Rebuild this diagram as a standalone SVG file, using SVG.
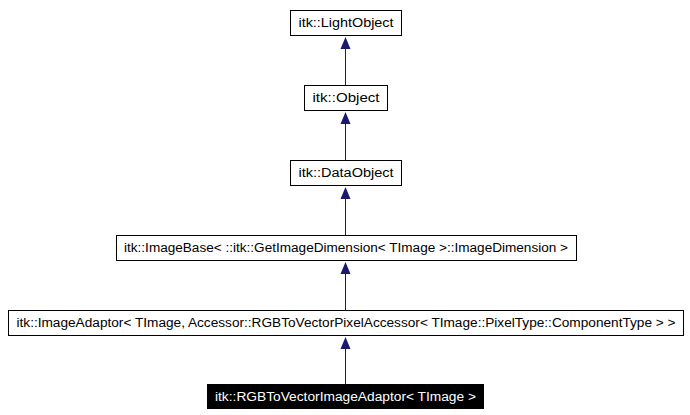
<svg xmlns="http://www.w3.org/2000/svg" width="690" height="415" viewBox="0 0 690 415">
<style>
.b{fill:#fff;stroke:#000;stroke-width:1}
.t{font-family:"Liberation Sans",Arial,sans-serif;font-size:12px;text-anchor:middle;fill:#000}
.e{stroke:#191970;stroke-width:1;fill:none}
</style>
<rect width="690" height="415" fill="#fff"/>
<g id="connectors">
<line class="e" x1="345.5" y1="85" x2="345.5" y2="45"/>
<line class="e" x1="345.5" y1="160" x2="345.5" y2="120"/>
<line class="e" x1="345.5" y1="235" x2="345.5" y2="195"/>
<line class="e" x1="345.5" y1="310" x2="345.5" y2="270"/>
<line class="e" x1="345.5" y1="384" x2="345.5" y2="345"/>
<g fill="#191970">
<path d="M345.5,37L350.5,49L340.5,49Z"/>
<path d="M345.5,112L350.5,124L340.5,124Z"/>
<path d="M345.5,187L350.5,199L340.5,199Z"/>
<path d="M345.5,262L350.5,274L340.5,274Z"/>
<path d="M345.5,337L350.5,349L340.5,349Z"/>
</g>
</g>
<g id="n1"><rect class="b" x="290.5" y="10.5" width="111" height="25"/><text class="t" x="346" y="27" textLength="95" lengthAdjust="spacingAndGlyphs">itk::LightObject</text></g>
<g id="n2"><rect class="b" x="304.5" y="85.5" width="83" height="25"/><text class="t" x="346" y="102" textLength="67" lengthAdjust="spacingAndGlyphs">itk::Object</text></g>
<g id="n3"><rect class="b" x="290.5" y="160.5" width="111" height="25"/><text class="t" x="346" y="177" textLength="95" lengthAdjust="spacingAndGlyphs">itk::DataObject</text></g>
<g id="n4"><rect class="b" x="116.5" y="235.5" width="460" height="25"/><text class="t" x="346" y="252" textLength="444" lengthAdjust="spacingAndGlyphs">itk::ImageBase&lt; ::itk::GetImageDimension&lt; TImage &gt;::ImageDimension &gt;</text></g>
<g id="n5"><rect class="b" x="8.5" y="310.5" width="675" height="25"/><text class="t" x="346" y="327" textLength="659" lengthAdjust="spacingAndGlyphs">itk::ImageAdaptor&lt; TImage, Accessor::RGBToVectorPixelAccessor&lt; TImage::PixelType::ComponentType &gt; &gt;</text></g>
<g id="n6"><rect x="207" y="384" width="277" height="25" fill="#000"/><text class="t" x="345.5" y="401" style="fill:#fff" textLength="261" lengthAdjust="spacingAndGlyphs">itk::RGBToVectorImageAdaptor&lt; TImage &gt;</text></g>
</svg>
